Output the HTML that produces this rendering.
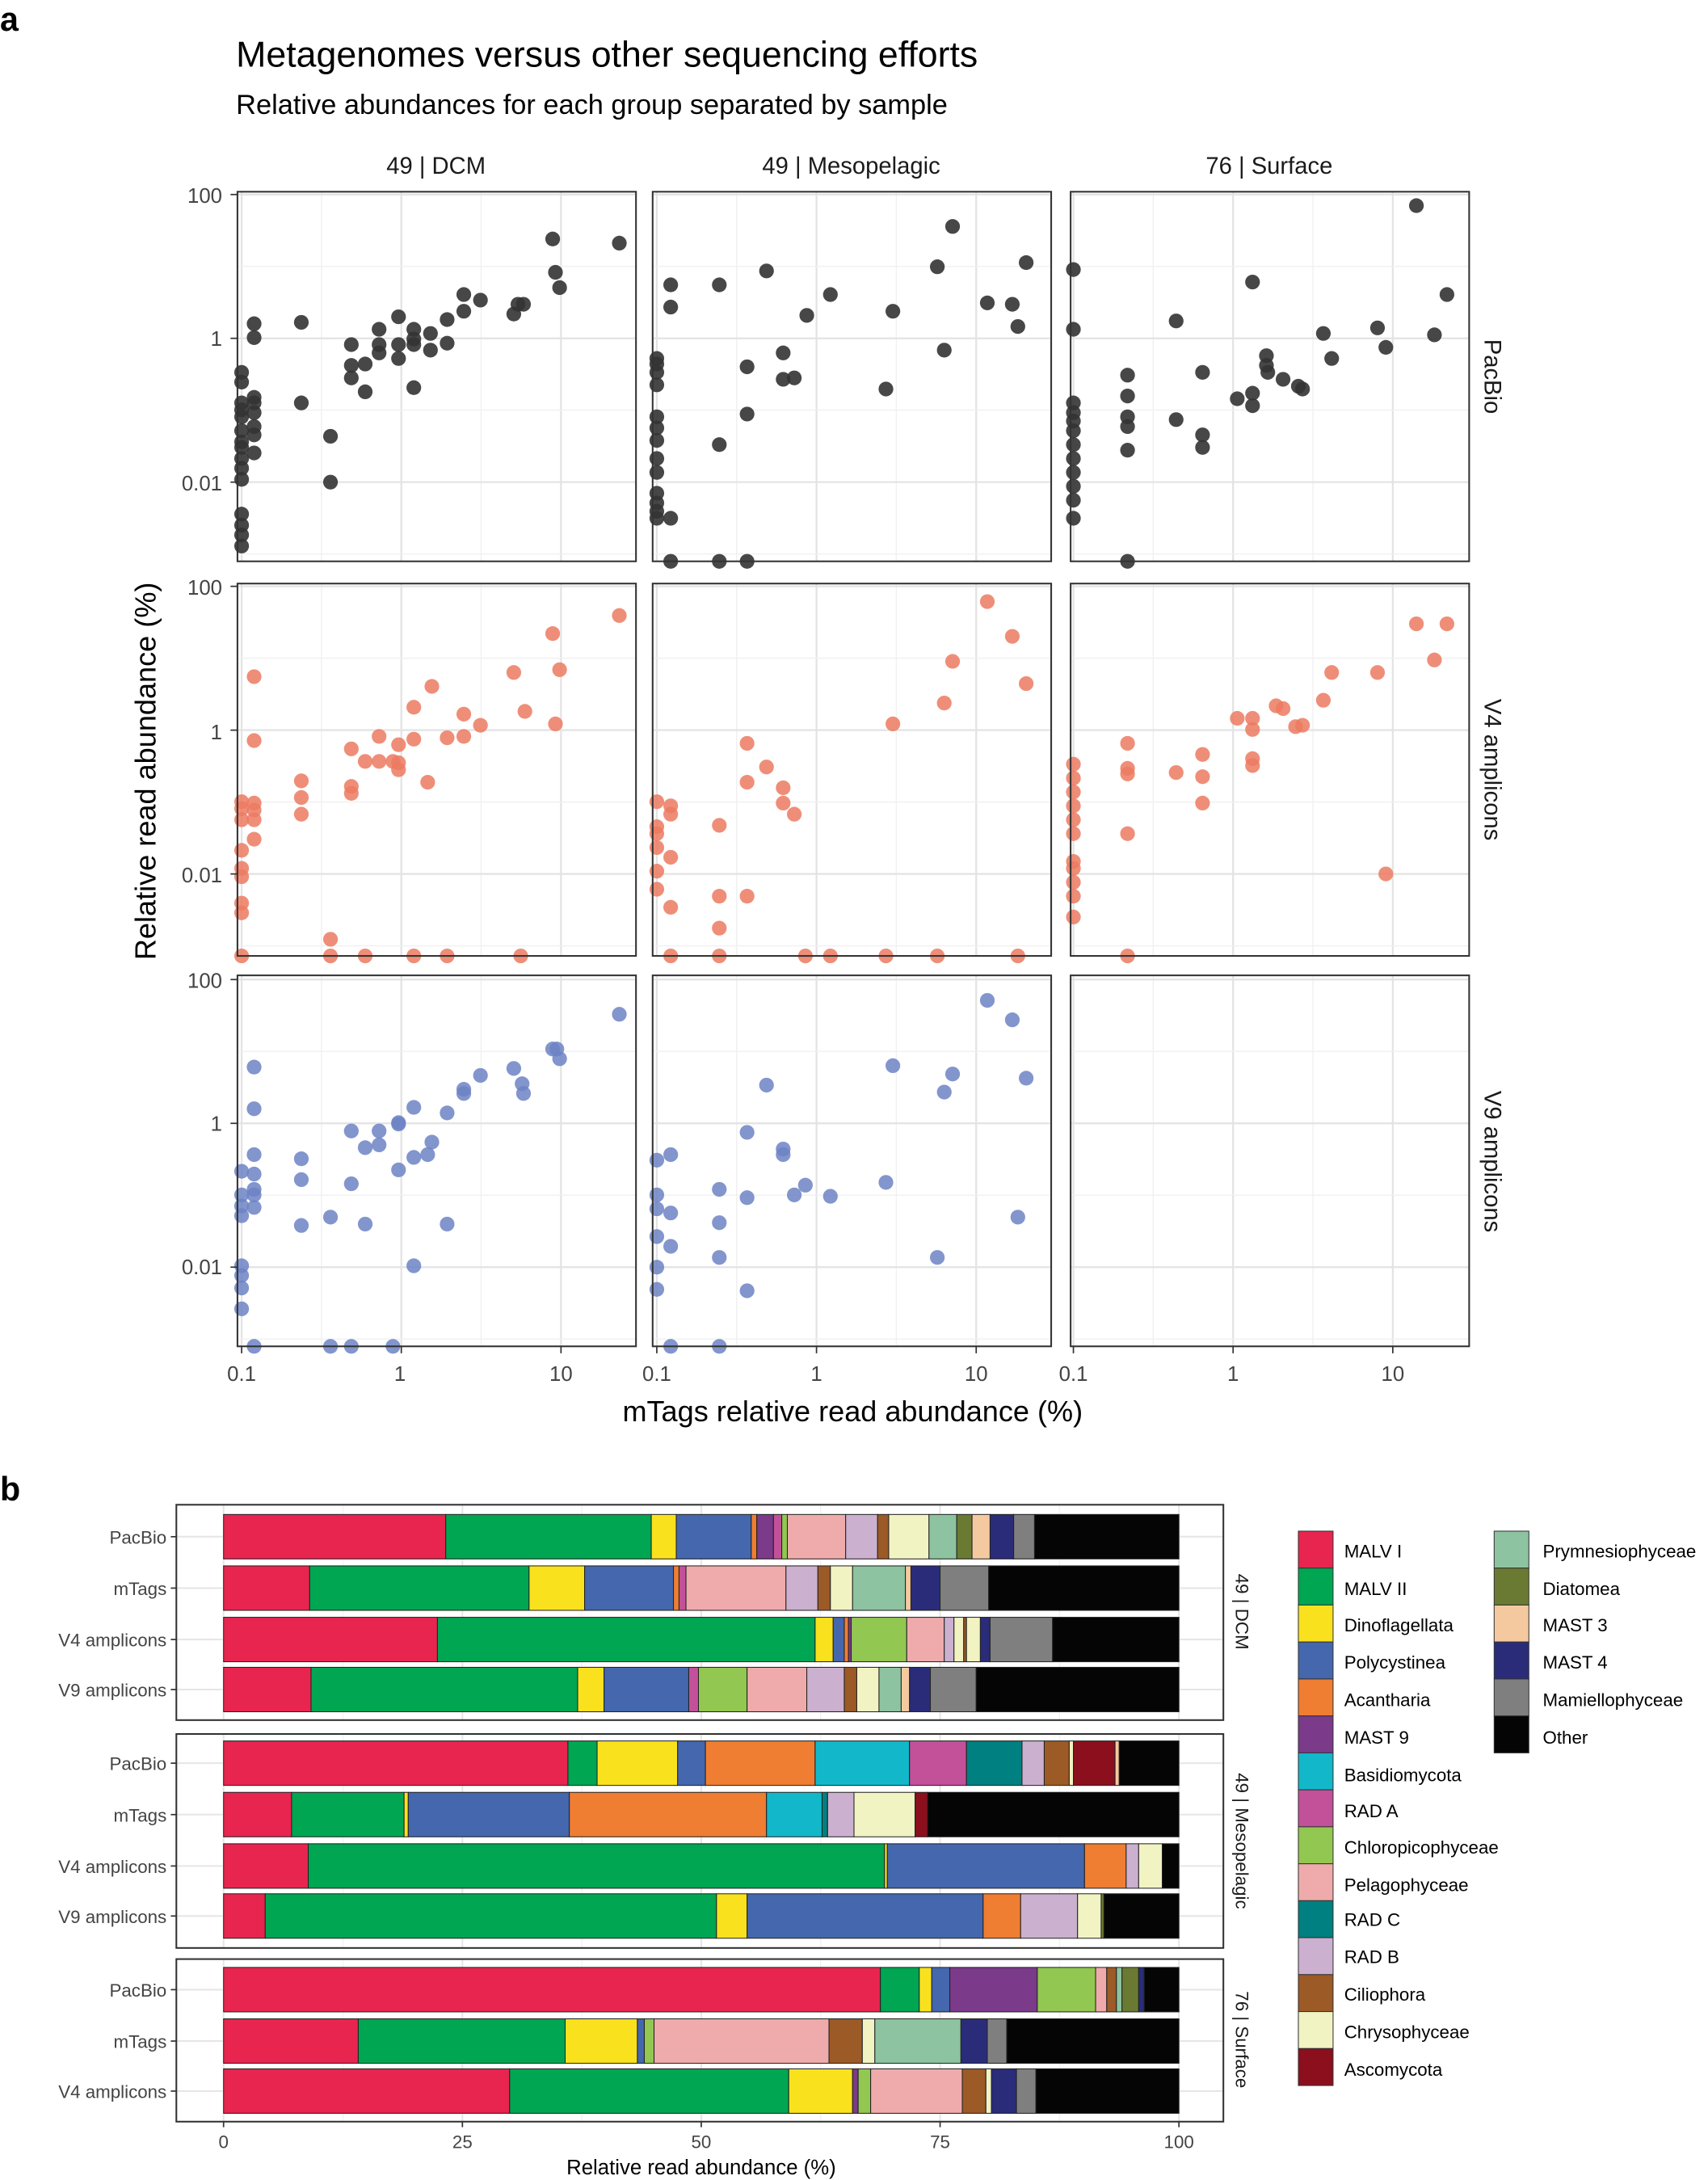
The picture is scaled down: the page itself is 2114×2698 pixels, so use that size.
<!DOCTYPE html>
<html><head><meta charset="utf-8"><style>
html,body{margin:0;padding:0;background:#fff;}
svg{display:block;font-family:"Liberation Sans",Arial,sans-serif;}
</style></head><body>
<svg id="s" width="2114" height="2698" viewBox="0 0 1230 1569" preserveAspectRatio="none" xmlns="http://www.w3.org/2000/svg">
<rect width="1230" height="1569" fill="#fff"/>
<g id="grid"></g>
<g id="pts"></g>
<g id="bars"></g>
<g id="frames"></g>
<g font-size="15" fill="#444">
<text x="0" y="22" font-size="24" font-weight="bold" fill="#000">a</text>
<text x="170" y="48" font-size="26" fill="#000">Metagenomes versus other sequencing efforts</text>
<text x="170" y="82" font-size="20" fill="#000">Relative abundances for each group separated by sample</text>
<g font-size="17" fill="#1a1a1a" text-anchor="middle">
<text x="314" y="125">49 | DCM</text>
<text x="613" y="125">49 | Mesopelagic</text>
<text x="914" y="125">76 | Surface</text>
<text transform="translate(1069,271) rotate(90)">PacBio</text>
<text transform="translate(1069,554) rotate(90)">V4 amplicons</text>
<text transform="translate(1069,836) rotate(90)">V9 amplicons</text>
</g>
<g text-anchor="end">
<text x="160" y="146">100</text><text x="160" y="249">1</text><text x="160" y="353">0.01</text>
<text x="160" y="428">100</text><text x="160" y="532">1</text><text x="160" y="635">0.01</text>
<text x="160" y="711">100</text><text x="160" y="814">1</text><text x="160" y="917">0.01</text>
</g>
<g text-anchor="middle">
<text x="174" y="994">0.1</text><text x="288" y="994">1</text><text x="404" y="994">10</text>
<text x="473" y="994">0.1</text><text x="588" y="994">1</text><text x="703" y="994">10</text>
<text x="773" y="994">0.1</text><text x="888" y="994">1</text><text x="1003" y="994">10</text>
</g>
<text x="614" y="1023" font-size="21" fill="#000" text-anchor="middle">mTags relative read abundance (%)</text>
<text transform="translate(112,555) rotate(-90)" font-size="21" fill="#000" text-anchor="middle">Relative read abundance (%)</text>

<text x="0" y="1080" font-size="24" font-weight="bold" fill="#000">b</text>
<g font-size="13" text-anchor="end">
<text x="120" y="1111">PacBio</text><text x="120" y="1148">mTags</text><text x="120" y="1185">V4 amplicons</text><text x="120" y="1221">V9 amplicons</text>
<text x="120" y="1274">PacBio</text><text x="120" y="1311">mTags</text><text x="120" y="1348">V4 amplicons</text><text x="120" y="1384">V9 amplicons</text>
<text x="120" y="1437">PacBio</text><text x="120" y="1474">mTags</text><text x="120" y="1510">V4 amplicons</text>
</g>
<g font-size="13" text-anchor="middle">
<text x="161" y="1546">0</text><text x="333" y="1546">25</text><text x="505" y="1546">50</text><text x="677" y="1546">75</text><text x="849" y="1546">100</text>
</g>
<text x="505" y="1565" font-size="15" fill="#000" text-anchor="middle">Relative read abundance (%)</text>
<g font-size="13" fill="#1a1a1a" text-anchor="middle">
<text transform="translate(890,1160) rotate(90)">49 | DCM</text>
<text transform="translate(890,1325) rotate(90)">49 | Mesopelagic</text>
<text transform="translate(890,1468) rotate(90)">76 | Surface</text>
</g>
<g font-size="13" fill="#000" id="legtext"></g>
</g>
<g font-size="13" fill="#000">
<text x="968" y="1121">MALV  I</text><text x="968" y="1148">MALV  II</text><text x="968" y="1174">Dinoflagellata</text><text x="968" y="1201">Polycystinea</text><text x="968" y="1228">Acantharia</text><text x="968" y="1255">MAST  9</text><text x="968" y="1282">Basidiomycota</text><text x="968" y="1308">RAD  A</text><text x="968" y="1334">Chloropicophyceae</text><text x="968" y="1361">Pelagophyceae</text><text x="968" y="1386">RAD  C</text><text x="968" y="1413">RAD  B</text><text x="968" y="1440">Ciliophora</text><text x="968" y="1467">Chrysophyceae</text><text x="968" y="1494">Ascomycota</text>
<text x="1111" y="1121">Prymnesiophyceae</text><text x="1111" y="1148">Diatomea</text><text x="1111" y="1174">MAST  3</text><text x="1111" y="1201">MAST  4</text><text x="1111" y="1228">Mamiellophyceae</text><text x="1111" y="1255">Other</text>
</g>
<g id="leg"></g>
</svg>
<script>
var NS="http://www.w3.org/2000/svg";
function el(p,t,a){var e=document.createElementNS(NS,t);for(var k in a)e.setAttribute(k,a[k]);document.getElementById(p).appendChild(e);return e;}
var cols=[[171,458,174],[470,757,473],[771,1058,773]];
var rows=[[138,404,140],[420,688,422],[702,969,705]];
rows.forEach(function(r){cols.forEach(function(c){
 el("grid","rect",{x:c[0],y:r[0],width:c[1]-c[0],height:r[1]-r[0],fill:"#fff"});
 for(var i=-1;i<=2;i++){var x=c[2]+115*(i+1);var xm=x-57.5;
  if(xm>c[0]&&xm<c[1])el("grid","line",{x1:xm,x2:xm,y1:r[0],y2:r[1],stroke:"#f0f0f0","stroke-width":0.8});
  if(x>c[0]&&x<c[1])el("grid","line",{x1:x,x2:x,y1:r[0],y2:r[1],stroke:"#e3e3e3","stroke-width":1.3});}
 for(var j=0;j<3;j++){var y=r[2]+103.5*j;el("grid","line",{x1:c[0],x2:c[1],y1:y,y2:y,stroke:"#e3e3e3","stroke-width":1.3});
  var ym=y+51.7;if(ym<r[1])el("grid","line",{x1:c[0],x2:c[1],y1:ym,y2:ym,stroke:"#f0f0f0","stroke-width":0.8});}
 el("frames","rect",{x:c[0],y:r[0],width:c[1]-c[0],height:r[1]-r[0],fill:"none",stroke:"#333","stroke-width":1.2});
});
 for(var j=0;j<3;j++){var y=r[2]+103.5*j;el("frames","line",{x1:166,x2:171,y1:y,y2:y,stroke:"#333"});}
});
cols.forEach(function(c){for(var i=0;i<3;i++){var x=c[2]+115*i;el("frames","line",{x1:x,x2:x,y1:969,y2:974,stroke:"#333"});}});
var P={
"#333":[174,268,174,275,174,290,174,295,174,300,174,310,174,318,174,322,174,330,174,337,174,345,174,370,174,378,174,385,174,393,183,233,183,243,183,286,183,290,183,297,183,307,183,313,183,326,217,232,217,290,238,314,238,347,253,248,253,263,253,272,273,237,273,248,273,254,263,262,263,282,287,228,287,248,287,258,298,237,298,244,298,248,298,279,310,240,310,252,322,230,322,247,334,212,334,224,346,216,370,226,373,219,377,219,398,172,400,196,403,207,446,175,
473,258,473,262,473,268,473,277,473,300,473,308,473,317,473,330,473,340,473,355,473,362,473,368,473,373,483,205,483,221,483,373,518,205,518,320,538,264,538,298,552,195,564,254,564,273,572,272,581,227,598,212,638,280,643,224,675,192,680,252,686,163,711,218,729,219,733,235,739,189,483,404,518,404,538,404,
773,194,773,237,773,290,773,297,773,303,773,310,773,320,773,330,773,340,773,350,773,360,773,373,812,270,812,285,812,300,812,307,812,324,812,404,847,231,847,302,866,268,866,313,866,322,891,287,902,283,902,292,902,203,912,256,912,263,913,268,924,273,935,278,938,280,953,240,959,258,992,236,998,250,1020,148,1033,241,1042,212],
"#ec7a60":[174,577,174,582,174,590,174,612,174,625,174,631,174,650,174,657,174,688,183,487,183,533,183,578,183,583,183,590,183,604,217,562,217,574,217,586,238,676,253,539,253,566,253,571,273,530,273,548,263,548,283,548,287,536,287,549,287,554,298,509,298,532,308,563,311,494,322,531,334,514,334,530,346,522,370,484,378,512,398,456,403,482,400,521,446,443,238,688,263,688,298,688,322,688,375,688,
473,577,473,595,473,600,473,610,473,627,473,640,483,580,483,586,483,617,483,653,518,594,518,645,518,668,538,535,538,563,538,645,552,552,564,567,564,578,572,586,643,521,680,506,686,476,711,433,729,458,739,492,483,688,518,688,580,688,598,688,638,688,675,688,733,688,
773,550,773,560,773,570,773,580,773,590,773,600,773,620,773,625,773,635,773,645,773,660,812,535,812,553,812,557,812,600,847,556,866,543,866,559,866,578,891,517,902,517,902,525,902,546,902,551,919,508,924,510,933,523,938,522,953,504,959,484,992,484,998,629,1020,449,1033,475,1042,449,812,688],
"#6c82c4":[174,843,174,860,174,868,174,875,174,911,174,918,174,927,174,942,183,768,183,798,183,831,183,845,183,856,183,860,183,869,217,834,217,849,217,882,238,876,253,814,253,852,263,881,273,814,273,824,263,826,287,808,287,809,287,842,298,797,298,833,298,911,311,822,308,831,322,881,322,801,334,787,334,784,346,774,370,769,376,780,377,787,398,755,401,755,403,762,446,730,238,969,253,969,283,969,183,969,
473,835,473,860,473,870,473,890,473,912,473,928,483,831,483,873,483,897,518,856,518,880,518,905,538,815,538,862,538,929,552,781,564,827,564,831,572,860,580,853,598,861,638,851,643,767,675,905,680,786,686,773,711,720,729,734,733,876,739,776,483,969,518,969]};
for(var c in P){var a=P[c];for(var i=0;i<a.length;i+=2)el("pts","circle",{cx:a[i],cy:a[i+1],r:5.3,fill:c,"fill-opacity":c=="#333"?0.9:0.85});}
var C={MI:"#e8254f",MII:"#00a651",Di:"#f9e11e",Po:"#4467ad",Ac:"#ef7d32",M9:"#7b3a8a",Ba:"#12b8c9",RA:"#c2519a",Ch:"#92c751",Pe:"#efabab",RC:"#008080",RB:"#cbb0cf",Ci:"#9c5a26",Cy:"#f2f3c3",As:"#8b0f1d",Pr:"#8dc3a0",Dt:"#6b7a33",M3:"#f5c9a0",M4:"#2a2c7a",Ma:"#7f7f7f",Ot:"#050505"};
var panels=[[1083,1238],[1248,1402],[1410,1527]];
panels.forEach(function(p){el("grid","rect",{x:127,y:p[0],width:754,height:p[1]-p[0],fill:"#fff"});
 for(var i=0;i<=8;i++){var x=161+86*i;el("grid","line",{x1:x,x2:x,y1:p[0],y2:p[1],stroke:i%2?"#f2f2f2":"#e6e6e6","stroke-width":i%2?0.8:1.2});}
 el("frames","rect",{x:127,y:p[0],width:754,height:p[1]-p[0],fill:"none",stroke:"#333","stroke-width":1.2});});
var B=[[1106,[["MI",321],["MII",469],["Di",487],["Po",541],["Ac",545],["M9",557],["RA",563],["Ch",567],["Pe",609],["RB",632],["Ci",640],["Cy",669],["Pr",689],["Dt",700],["M3",713],["M4",730],["Ma",745],["Ot",849]]],
[1143,[["MI",223],["MII",381],["Di",421],["Po",485],["Ac",489],["RA",494],["Pe",566],["RB",589],["Ci",598],["Cy",614],["Pr",652],["M3",656],["M4",677],["Ma",712],["Ot",849]]],
[1180,[["MI",315],["MII",587],["Di",600],["Po",608],["Ac",611],["M9",613],["Ch",653],["Pe",680],["RB",687],["Cy",694],["Ci",696],["Cy",706],["M4",713],["Ma",758],["Ot",849]]],
[1216,[["MI",224],["MII",416],["Di",435],["Po",496],["RA",503],["Ch",538],["Pe",581],["RB",608],["Ci",617],["Cy",633],["Pr",649],["M3",655],["M4",670],["Ma",703],["Ot",849]]],
[1269,[["MI",409],["MII",430],["Di",488],["Po",508],["Ac",587],["Ba",655],["RA",696],["RC",736],["RB",752],["Ci",770],["Cy",773],["As",803],["M3",806],["Ot",849]]],
[1306,[["MI",210],["MII",291],["Di",294],["Po",410],["Ac",552],["Ba",592],["RC",596],["RB",615],["Cy",659],["As",668],["Ot",849]]],
[1343,[["MI",222],["MII",637],["Di",639],["Po",781],["Ac",811],["RB",820],["Cy",837],["Ot",849]]],
[1379,[["MI",191],["MII",516],["Di",538],["Po",708],["Ac",735],["RB",776],["Cy",793],["Dt",795],["Ot",849]]],
[1432,[["MI",634],["MII",662],["Di",671],["Po",684],["M9",747],["Ch",789],["Pe",797],["Ci",804],["Pr",808],["Dt",820],["M4",824],["Ot",849]]],
[1469,[["MI",258],["MII",407],["Di",459],["Po",464],["Ch",471],["Pe",597],["Ci",621],["Cy",630],["Pr",692],["M4",711],["Ma",725],["Ot",849]]],
[1505,[["MI",367],["MII",568],["Di",614],["M9",618],["Ch",627],["Pe",693],["Ci",710],["Cy",714],["M4",732],["Ma",746],["Ot",849]]]];
B.forEach(function(b){var y=b[0];el("grid","line",{x1:127,x2:881,y1:y,y2:y,stroke:"#e6e6e6","stroke-width":1.2});
 el("frames","line",{x1:123,x2:127,y1:y,y2:y,stroke:"#333"});
 var x0=161;b[1].forEach(function(s){el("bars","rect",{x:x0,y:y-16,width:s[1]-x0,height:32,fill:C[s[0]],stroke:"#222","stroke-width":0.6});x0=s[1];});});
for(var i=0;i<=4;i++){var x=161+172*i;el("frames","line",{x1:x,x2:x,y1:1527,y2:1531,stroke:"#333"});}
var L1=["MI","MII","Di","Po","Ac","M9","Ba","RA","Ch","Pe","RC","RB","Ci","Cy","As"],L2=["Pr","Dt","M3","M4","Ma","Ot"];
L1.forEach(function(k,i){el("leg","rect",{x:935,y:1102+26.6*i,width:25,height:26.6,fill:C[k],stroke:"#333","stroke-width":0.6});});
L2.forEach(function(k,i){el("leg","rect",{x:1076,y:1102+26.6*i,width:25,height:26.6,fill:C[k],stroke:"#333","stroke-width":0.6});});
</script>
</body></html>
